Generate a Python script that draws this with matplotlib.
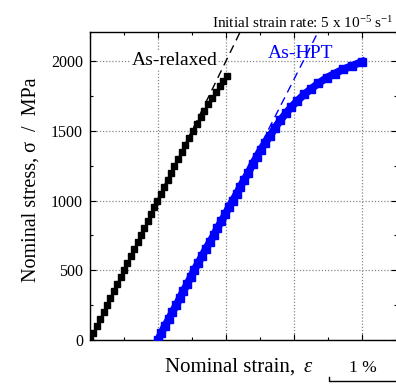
import matplotlib
matplotlib.use("Agg")
import matplotlib.pyplot as plt
from matplotlib.ticker import MultipleLocator, NullFormatter

plt.rcParams['font.family'] = ['Liberation Serif', 'DejaVu Serif']
plt.rcParams['mathtext.fontset'] = 'custom'
plt.rcParams['mathtext.rm'] = 'Liberation Serif'
plt.rcParams['mathtext.it'] = 'Liberation Serif:italic'

# ---- data (strain in %, stress in MPa) ----
relaxed_strain = [0, 0.05, 0.10, 0.15, 0.20, 0.25, 0.30, 0.35, 0.40, 0.45, 0.50, 0.55,
                  0.60, 0.65, 0.70, 0.75, 0.80, 0.85, 0.90, 0.94, 0.99, 1.04, 1.09,
                  1.14, 1.19, 1.24, 1.30, 1.35, 1.40, 1.45, 1.51, 1.57, 1.63, 1.68,
                  1.74, 1.80, 1.86, 1.91, 1.96, 2.02]
relaxed_stress = [0, 50, 100, 150, 200, 250, 300, 350, 400, 450, 500, 550, 600, 650,
                  700, 750, 800, 850, 900, 950, 1000, 1050, 1100, 1150, 1200, 1250,
                  1300, 1350, 1400, 1450, 1500, 1550, 1600, 1645, 1690, 1735, 1780,
                  1820, 1855, 1890]

hpt_strain = [1.00, 1.05, 1.10, 1.16, 1.21, 1.27, 1.32, 1.37, 1.43, 1.48, 1.53, 1.59,
              1.645, 1.70, 1.76, 1.82, 1.87, 1.93, 1.99, 2.04, 2.10, 2.16, 2.21, 2.27,
              2.33, 2.39, 2.45, 2.51, 2.58, 2.65, 2.72, 2.80, 2.88, 2.96, 3.05, 3.15,
              3.25, 3.36, 3.48, 3.60, 3.72, 3.85, 4.00]
hpt_stress = [0, 50, 100, 150, 200, 250, 300, 350, 400, 450, 500, 550, 600, 650, 700,
              750, 800, 850, 900, 950, 1000, 1050, 1100, 1150, 1200, 1260, 1312, 1365,
              1415, 1465, 1520, 1575, 1625, 1670, 1715, 1760, 1800, 1840, 1880, 1910,
              1940, 1965, 1995]

relaxed_fit_strain = [0, 2.3]
relaxed_fit_stress = [0, 2300]
hpt_fit_strain = [1.05, 3.45]
hpt_fit_stress = [0, 2300]

yticks = [0, 500, 1000, 1500, 2000]
ytick_labels = ['0', '500', '1000', '1500', '2000']

W, H = 396, 386
fig = plt.figure(figsize=(W / 100, H / 100), dpi=100)
ax = fig.add_axes([90 / W, 1 - 340 / H, 307 / W, 308 / H])

ax.set_xlim(0, 307 / 68)
ax.set_ylim(0, 2208)

ax.plot(relaxed_fit_strain, relaxed_fit_stress, color='black', lw=1.0,
        dashes=(6, 4), zorder=3)
ax.plot(hpt_fit_strain, hpt_fit_stress, color='blue', lw=1.0,
        dashes=(6, 4), zorder=3)

ax.plot(relaxed_strain, relaxed_stress, color='black', lw=1.5, marker='s',
        ms=3.8, zorder=4)
ax.plot(hpt_strain, hpt_stress, color='blue', lw=5.5, marker='s',
        ms=5.2, zorder=4)

ax.xaxis.set_major_locator(MultipleLocator(1))
ax.xaxis.set_minor_locator(MultipleLocator(0.5))
ax.xaxis.set_major_formatter(NullFormatter())
ax.set_yticks(yticks)
ax.set_yticklabels(ytick_labels)
ax.yaxis.set_minor_locator(MultipleLocator(250))
ax.tick_params(which='both', direction='in', top=True, right=True, width=0.8)
ax.tick_params(which='major', length=4, labelsize=11.5, pad=5)
ax.tick_params(which='minor', length=2.5)
ax.grid(True, which='major', color='#888888', linestyle=(0, (1, 1.5)), lw=0.9)
ax.set_axisbelow(True)
for s in ax.spines.values():
    s.set_linewidth(1.0)

ax.set_ylabel('Nominal stress, σ  /  MPa', fontsize=14.5)
ax.yaxis.set_label_coords(-0.162, 0.52)

ax.text(1.24, 2005, 'As-relaxed', fontsize=14, color='black', ha='center',
        va='center', bbox=dict(facecolor='white', edgecolor='none', pad=0.5), zorder=5)
ax.text(3.10, 2055, 'As-HPT', fontsize=14, color='blue', ha='center',
        va='center', zorder=5)

fig.text(393 / W, 1 - 28 / H, 'Initial strain rate: 5 x 10$^{-5}$ s$^{-1}$',
         fontsize=11, ha='right', va='baseline')

fig.text(165 / W, 1 - 367 / H, 'Nominal strain, ', fontsize=15, ha='left', va='center')
fig.text(308 / W, 1 - 367 / H, 'ε', fontsize=15, style='italic', ha='center', va='center')

fig.text(363 / W, 1 - 368 / H, '1 %', fontsize=12.5, ha='center', va='center')
fig.add_artist(plt.Line2D([329 / W, 329 / W, 396 / W], [1 - 377 / H, 1 - 381 / H, 1 - 381 / H],
                          color='black', lw=1.0, transform=fig.transFigure))

fig.savefig('out.png', dpi=100)
